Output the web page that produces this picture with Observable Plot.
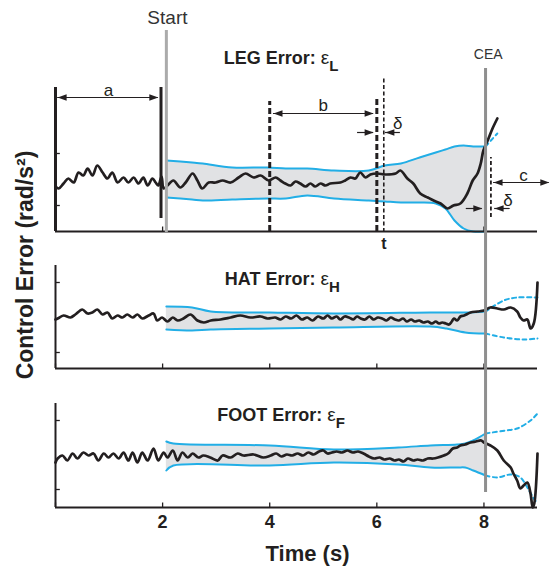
<!DOCTYPE html>
<html>
<head>
<meta charset="utf-8">
<script src="https://cdn.jsdelivr.net/npm/d3@7"></script>
<script src="https://cdn.jsdelivr.net/npm/@observablehq/plot@0.6"></script>
<style>
  body { margin: 0; background: #fff; }
  #chart { position: relative; width: 551px; height: 577px; overflow: hidden; background: #fff; }
  #chart svg { position: absolute; left: 0; top: 0; }
</style>
</head>
<body>
<div id="chart"></div>
<script>
// ---------------- DATA (time in s, error in arbitrary units) ----------------
const xTickValues = [2, 4, 6, 8];
const xTickLabels = ["2", "4", "6", "8"];
const panelTitles = ["LEG Error: εL", "HAT Error: εH", "FOOT Error: εF"];
const yLabel = "Control Error (rad/s²)";
const xLabel = "Time (s)";

// event times
const startTime = 2.07;
const ceaTime = 8.03;
const windowA = [0, 1.97];
const windowB = [4.0, 6.0];
const tTime = 6.13;
const cTime = 8.13;

// LEG error signal [t, value]
const legSignal = [
  [0.00,-0.7],[0.06,-0.9],[0.15,-0.4],[0.24,0.1],[0.34,-0.3],[0.43,0.7],[0.52,0.4],[0.60,1.1],
  [0.69,0.4],[0.78,1.4],[0.88,0.7],[0.97,0.1],[1.06,0.7],[1.16,-0.3],[1.27,0.2],[1.36,-0.3],
  [1.46,0.2],[1.55,-0.4],[1.64,0.2],[1.72,-0.6],[1.81,0.1],[1.87,-0.3],[1.92,-0.6],[1.98,0.3],
  [2.02,-0.9],[2.09,-0.6],[2.20,-0.1],[2.33,-0.8],[2.43,-0.3],[2.56,0.6],[2.65,-0.1],[2.74,-0.9],
  [2.86,-0.3],[2.99,-0.3],[3.12,-0.1],[3.27,-0.3],[3.42,0.2],[3.55,0.6],[3.70,0.2],[3.83,0.4],
  [3.98,-0.1],[4.11,0.2],[4.20,-0.1],[4.29,-0.4],[4.39,-0.6],[4.48,-0.2],[4.57,-0.4],[4.67,-0.7],
  [4.76,-0.4],[4.85,-0.7],[4.95,-0.4],[5.04,-0.6],[5.13,-0.4],[5.32,-0.3],[5.41,-0.1],[5.51,0.2],
  [5.60,0.1],[5.69,0.7],[5.79,0.2],[5.88,0.5],[6.01,0.6],[6.16,0.5],[6.35,0.6],[6.44,0.9],
  [6.57,0.1],[6.68,-0.4],[6.81,-1.4],[6.95,-1.8],[7.06,-2.1],[7.19,-2.4],[7.32,-2.9],[7.43,-2.6],
  [7.56,-2.4],[7.69,-1.4],[7.79,-0.1],[7.88,0.6],[7.94,1.6],[7.99,2.9],[8.07,3.9],[8.16,5.1],[8.25,6.1]
];
// LEG band [t, upper, lower]
const legBand = [
  [2.07,1.9,-1.8],[2.55,1.7,-2.0],[2.75,1.6,-2.1],[3.30,1.2,-2.0],[3.95,1.2,-1.9],[4.30,1.1,-1.9],
  [4.70,1.1,-1.6],[5.20,0.9,-1.9],[5.85,0.9,-2.1],[6.15,1.4,-2.2],[6.45,1.6,-2.3],[6.80,2.2,-2.3],
  [7.10,2.7,-2.4],[7.28,3.0,-2.9],[7.45,3.3,-4.1],[7.62,3.4,-4.9],[7.80,3.3,-5.2],[8.03,3.3,-5.2]
];
const legExtUpper = [[8.03,3.3],[8.13,3.9],[8.25,4.6]];

// HAT error signal
const hatSignal = [
  [0.00,-0.2],[0.04,-0.1],[0.15,0.2],[0.28,0.0],[0.37,0.3],[0.50,0.8],[0.60,0.4],[0.69,0.5],
  [0.78,0.8],[0.88,0.3],[0.97,0.5],[1.06,-0.1],[1.16,0.2],[1.25,0.0],[1.34,0.3],[1.44,0.0],
  [1.53,0.3],[1.62,-0.1],[1.74,0.2],[1.83,0.4],[1.90,-0.3],[1.99,0.0],[2.09,-0.4],[2.19,0.0],
  [2.28,-0.3],[2.39,-0.1],[2.52,0.3],[2.65,-0.3],[2.77,-0.5],[2.90,-0.3],[3.08,-0.2],[3.27,0.0],
  [3.45,0.2],[3.64,0.0],[3.83,0.1],[3.96,-0.1],[4.10,0.0],[4.20,-0.2],[4.30,0.1],[4.40,-0.1],
  [4.50,0.2],[4.60,-0.2],[4.70,0.0],[4.80,-0.3],[4.90,0.1],[5.00,-0.1],[5.08,0.2],[5.16,-0.1],
  [5.25,0.1],[5.32,-0.2],[5.40,0.1],[5.48,0.0],[5.56,-0.2],[5.63,0.1],[5.70,-0.1],[5.78,-0.2],
  [5.86,0.1],[5.94,-0.2],[6.02,0.0],[6.10,-0.1],[6.18,-0.3],[6.26,0.0],[6.34,-0.2],[6.41,-0.3],
  [6.49,-0.1],[6.56,-0.4],[6.64,-0.2],[6.71,-0.4],[6.79,-0.3],[6.87,-0.5],[6.95,-0.4],[7.03,-0.6],
  [7.10,-0.4],[7.16,-0.6],[7.22,-0.5],[7.29,-0.6],[7.35,-0.7],[7.40,-0.4],[7.44,-0.1],[7.50,-0.3],
  [7.56,0.1],[7.63,0.2],[7.75,0.5],[7.88,0.6],[8.00,0.7],[8.12,1.0],[8.25,0.9],[8.37,0.8],
  [8.50,1.0],[8.62,0.6],[8.68,0.0],[8.74,-0.3],[8.81,-0.2],[8.87,-1.1],[8.93,-0.6],[9.00,3.5]
];
const hatBand = [
  [2.07,1.1,-1.2],[2.55,1.0,-1.3],[2.90,0.6,-1.2],[4.00,0.5,-1.1],[5.20,0.4,-1.0],[7.00,0.5,-0.9],
  [7.30,0.5,-1.1],[7.65,0.5,-1.5],[8.03,0.6,-1.6]
];
const hatExtUpper = [[8.03,0.6],[8.37,1.7],[8.62,2.0],[9.00,2.0]];
const hatExtLower = [[8.03,-1.6],[8.37,-2.0],[8.74,-2.2],[9.00,-2.1]];

// FOOT error signal
const footSignal = [
  [0.00,-0.7],[0.04,-0.3],[0.13,0.0],[0.22,-0.5],[0.32,0.2],[0.41,-0.3],[0.52,0.3],[0.62,0.0],
  [0.71,0.2],[0.80,-0.5],[0.90,0.2],[0.99,-0.2],[1.08,0.2],[1.18,-0.3],[1.27,0.3],[1.36,-0.5],
  [1.44,0.3],[1.53,-0.7],[1.62,0.3],[1.72,-0.5],[1.83,0.7],[1.92,-0.5],[2.02,0.3],[2.09,-0.2],
  [2.19,0.5],[2.28,-0.5],[2.37,0.3],[2.47,-0.2],[2.56,0.2],[2.67,-0.2],[2.76,0.0],[2.89,-0.2],
  [3.03,-0.5],[3.12,0.0],[3.27,-0.2],[3.40,0.2],[3.51,0.0],[3.70,0.1],[3.88,-0.2],[4.02,0.0],
  [4.12,0.2],[4.22,-0.1],[4.32,0.1],[4.42,0.0],[4.52,0.2],[4.62,0.0],[4.72,0.3],[4.82,0.1],
  [4.92,0.4],[5.00,0.5],[5.08,0.2],[5.16,0.3],[5.25,0.4],[5.35,0.3],[5.45,0.5],[5.55,0.3],
  [5.65,0.4],[5.75,0.2],[5.85,-0.1],[5.95,-0.3],[6.05,-0.2],[6.14,-0.4],[6.24,-0.3],[6.33,-0.5],
  [6.41,-0.4],[6.50,-0.6],[6.58,-0.3],[6.68,-0.5],[6.76,-0.4],[6.86,-0.5],[6.95,-0.3],[7.05,-0.3],
  [7.14,-0.2],[7.25,0.0],[7.33,0.2],[7.42,0.7],[7.50,0.8],[7.56,1.0],[7.65,1.1],[7.75,1.3],
  [7.85,1.4],[7.95,1.5],[8.00,1.3],[8.12,1.0],[8.25,0.5],[8.37,-0.5],[8.50,-1.2],[8.55,-1.8],
  [8.62,-2.5],[8.68,-3.3],[8.74,-3.0],[8.81,-2.7],[8.87,-3.8],[8.91,-5.2],[8.94,-4.8],[9.00,0.2]
];
const footBand = [
  [2.07,1.4,-1.5],[2.20,1.2,-1.0],[4.00,1.0,-1.0],[5.20,0.6,-0.7],[6.40,0.8,-0.9],[7.00,1.0,-1.2],
  [7.50,1.1,-1.2],[7.65,1.2,-1.2],[7.80,1.5,-1.5],[8.03,2.2,-2.0]
];
const footExtUpper = [[8.03,2.2],[8.15,2.3],[8.40,2.5],[8.62,2.7],[8.87,3.5],[9.00,4.2]];
const footExtLower = [[8.03,-2.0],[8.25,-2.2],[8.50,-1.9],[8.68,-2.2],[8.81,-3.2],[8.93,-4.3],[9.00,-4.8]];

// annotation arrows on the LEG panel: [x1, x2, y, doubleHeaded]
const legArrows = [
  [0.04, 1.92, 8.2, true],   // a
  [4.07, 5.94, 6.6, true],   // b
  [5.64, 5.94, 4.7, false],  // δ →
  [6.44, 6.16, 4.7, false],  // δ ←
  [8.18, 9.22, -0.3, true],  // c
  [7.67, 7.97, -2.9, false], // δ →
  [8.49, 8.20, -2.9, false]  // δ ←
];
const legArrowLabels = [
  [0.99, 8.9, "a"], [5.0, 7.4, "b"], [6.39, 5.6, "δ"], [8.74, 0.4, "c"], [8.45, -2.1, "δ"]
];

// ---------------- DRAWING ----------------
const W = 551, H = 577;
const xDomain = [0, 9];
const ink = "#231f20", cyan = "#22aee6", bandFill = "#e1e2e4";
const fontFamily = "'Liberation Sans', Arial, Helvetica, sans-serif";
const curve = "catmull-rom";

const headRight = {draw(ctx) { ctx.moveTo(0, 0); ctx.lineTo(-9, -3.3); ctx.lineTo(-9, 3.3); ctx.closePath(); }};
const headLeft  = {draw(ctx) { ctx.moveTo(0, 0); ctx.lineTo(9, -3.3); ctx.lineTo(9, 3.3); ctx.closePath(); }};

const toPts = arr => arr.map(([t, v]) => ({t, v}));
const toBand = arr => arr.map(([t, hi, lo]) => ({t, hi, lo}));

function dataMarks({signal, band, extUpper, extLower, yBottom, yTop, yTicks, axisWidth}) {
  const b = toBand(band);
  const marks = [
    Plot.areaY(b, {x: "t", y1: "lo", y2: "hi", fill: bandFill, curve}),
    Plot.line(b, {x: "t", y: "hi", stroke: cyan, strokeWidth: 2, curve}),
    Plot.line(b, {x: "t", y: "lo", stroke: cyan, strokeWidth: 2, curve})
  ];
  if (extUpper) marks.push(Plot.line(toPts(extUpper), {x: "t", y: "v", stroke: cyan, strokeWidth: 2, strokeDasharray: "4,3.5", curve}));
  if (extLower) marks.push(Plot.line(toPts(extLower), {x: "t", y: "v", stroke: cyan, strokeWidth: 2, strokeDasharray: "4,3.5", curve}));
  marks.push(
    Plot.line(toPts(signal), {x: "t", y: "v", stroke: ink, strokeWidth: 2.7, curve, strokeLinejoin: "round"}),
    // axes
    Plot.ruleY([yBottom], {y: d => d, x1: () => xDomain[0], x2: () => xDomain[1], stroke: ink, strokeWidth: 2}),
    Plot.ruleX([0], {x: d => d, y1: () => yBottom, y2: () => yTop, stroke: ink, strokeWidth: axisWidth}),
    Plot.ruleY(yTicks, {y: d => d, x1: () => 0, x2: () => 0.09, stroke: ink, strokeWidth: 1.3}),
    Plot.ruleX([0, ...xTickValues], {x: d => d, y1: () => yBottom, y2: () => yBottom + 0.45, stroke: ink, strokeWidth: 1.3})
  );
  return marks;
}

function makePanel(frameTop, frameBottom, yDomain, marks) {
  return Plot.plot({
    width: W, height: H,
    marginLeft: 55, marginRight: 14, marginTop: frameTop, marginBottom: H - frameBottom,
    x: {domain: xDomain, axis: null},
    y: {domain: yDomain, axis: null},
    style: {background: "transparent", fontFamily, overflow: "visible", color: ink},
    marks
  });
}

function titleMark(title, x, y) {
  return Plot.text([title], {x: () => x, y: () => y, text: d => d, textAnchor: "start", fontSize: 18, fontWeight: "bold", fill: ink});
}

// ---- LEG panel ----
const arrows = legArrows.map(([x1, x2, y, both]) => ({x1, x2, y, both}));
const heads = [];
for (const a of arrows) {
  const dir = a.x2 > a.x1 ? 1 : -1;
  heads.push({x: a.x2, y: a.y, dir});
  if (a.both) heads.push({x: a.x1, y: a.y, dir: -dir});
}
const legMarks = [
  ...dataMarks({signal: legSignal, band: legBand, extUpper: legExtUpper, yBottom: -5.2, yTop: 9.2, yTicks: [2.6, -2.6], axisWidth: 3}),
  Plot.ruleX([startTime], {x: d => d, y1: () => -5.3, y2: () => 14.9, stroke: "#ababab", strokeWidth: 3}),
  Plot.ruleX([windowA[1]], {x: d => d, y1: () => -3.9, y2: () => 9.2, stroke: ink, strokeWidth: 3}),
  Plot.ruleX([windowB[0]], {x: d => d, y1: () => -5.2, y2: () => 7.8, stroke: ink, strokeWidth: 3, strokeDasharray: "6,3"}),
  Plot.ruleX([windowB[1]], {x: d => d, y1: () => -5.2, y2: () => 8.0, stroke: ink, strokeWidth: 3, strokeDasharray: "6,3"}),
  Plot.ruleX([tTime], {x: d => d, y1: () => -5.3, y2: () => 10.1, stroke: ink, strokeWidth: 1.6, strokeDasharray: "4,2.5"}),
  Plot.ruleX([cTime], {x: d => d, y1: () => -3.8, y2: () => 2.2, stroke: ink, strokeWidth: 1.8, strokeDasharray: "4,2.5"}),
  Plot.ruleY(arrows, {y: "y", x1: "x1", x2: "x2", stroke: ink, strokeWidth: 1.2}),
  Plot.dot(heads.filter(h => h.dir > 0), {x: "x", y: "y", symbol: headRight, fill: ink, stroke: "none"}),
  Plot.dot(heads.filter(h => h.dir < 0), {x: "x", y: "y", symbol: headLeft, fill: ink, stroke: "none"}),
  Plot.text(legArrowLabels, {x: d => d[0], y: d => d[1], text: d => d[2], fontSize: 17, fill: ink}),
  Plot.text(["t"], {x: () => tTime, y: () => -6.4, text: d => d, fontSize: 16, fontWeight: "bold", fill: ink}),
  Plot.text(["Start"], {x: () => 2.09, y: () => 16.2, text: d => d, fontSize: 19, fill: "#333"}),
  Plot.text(["CEA"], {x: () => 8.08, y: () => 12.5, text: d => d, fontSize: 14, fill: "#333"}),
  titleMark(panelTitles[0], 3.14, 12.1),
  Plot.ruleX([ceaTime], {x: d => d, y1: () => -31.3, y2: () => 11.1, stroke: "#8f8f8f", strokeWidth: 3})
];

// ---- HAT panel ----
const hatMarks = [
  ...dataMarks({signal: hatSignal, band: hatBand, extUpper: hatExtUpper, extLower: hatExtLower, yBottom: -5.1, yTop: 5.2, yTicks: [3.5, -3.5], axisWidth: 2}),
  titleMark(panelTitles[1], 3.16, 3.78),
  Plot.text([yLabel], {frameAnchor: "left", textAnchor: "middle", lineAnchor: "middle", dx: -30, dy: -52, rotate: -90, text: d => d, fontSize: 23, fontWeight: "bold", fill: ink})
];

// ---- FOOT panel ----
const footMarks = [
  ...dataMarks({signal: footSignal, band: footBand, extUpper: footExtUpper, extLower: footExtLower, yBottom: -5.2, yTop: 5.2, yTicks: [3.5, -3.4], axisWidth: 2}),
  titleMark(panelTitles[2], 3.02, 3.98),
  Plot.text(xTickValues, {x: d => d, y: () => -5.2, dy: 15, text: (d, i) => xTickLabels[i], fontSize: 18, fontWeight: "bold", fill: ink}),
  Plot.text([xLabel], {frameAnchor: "bottom", textAnchor: "middle", dx: 11, dy: 46, lineAnchor: "middle", text: d => d, fontSize: 22, fontWeight: "bold", fill: ink})
];

const chart = document.getElementById("chart");
const svgs = [
  makePanel(265, 368, [-5.1, 5.2], hatMarks),
  makePanel(403, 507, [-5.2, 5.2], footMarks),
  makePanel(75, 231, [-5.2, 10.4], legMarks)
];
for (const svg of svgs) chart.appendChild(svg);

// Subscript styling for the panel titles (e.g. "LEG Error: ε" + subscript "L")
for (const svg of svgs) {
  d3.select(svg).selectAll("text").each(function() {
    const m = /^(.*Error:) ε(\w)$/.exec(this.textContent);
    if (!m) return;
    const t = d3.select(this);
    t.text(null);
    t.append("tspan").attr("font-weight", "bold").text(m[1] + " ");
    t.append("tspan").attr("font-weight", "normal").attr("font-size", 19).text("ε");
    t.append("tspan").attr("font-weight", "bold").attr("font-size", 15).attr("dy", 7).text(m[2]);
  });
}
</script>
</body>
</html>
